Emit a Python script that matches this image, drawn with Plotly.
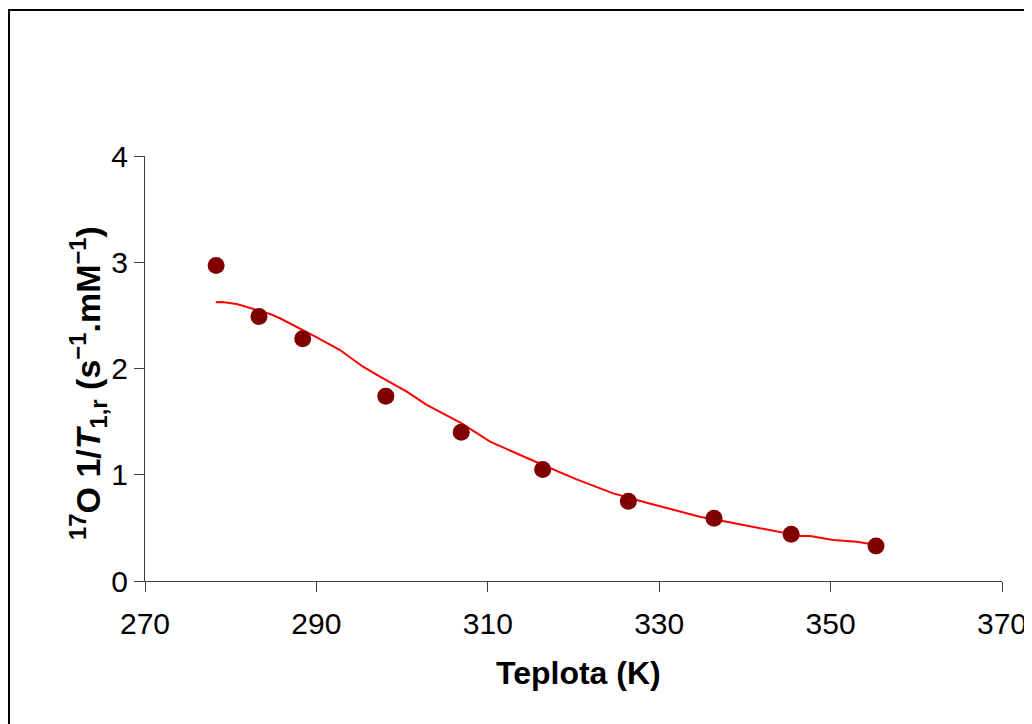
import plotly.graph_objects as go

# Measured data points
temp_pts = [278.3, 283.3, 288.4, 298.1, 306.9, 316.4, 326.4, 336.4, 345.4, 355.3]
rate_pts = [2.97, 2.49, 2.28, 1.74, 1.40, 1.05, 0.75, 0.59, 0.44, 0.33]

# Fitted curve
temp_fit = [278.25, 279.0, 280.7, 282.25, 284.59, 285.75, 288.09, 290.04, 292.75, 295.44,
            297.42, 300.54, 302.87, 305.59, 306.95, 310.26, 312.59, 316.44, 320.37,
            324.64, 328.54, 334.73, 337.88, 346.44, 347.61, 350.28, 353.05, 355.38]
rate_fit = [2.623, 2.625, 2.607, 2.567, 2.513, 2.473, 2.378, 2.294, 2.174, 2.017,
            1.923, 1.782, 1.657, 1.546, 1.484, 1.311, 1.226, 1.092, 0.957,
            0.825, 0.737, 0.605, 0.558, 0.424, 0.424, 0.386, 0.370, 0.339]

x_ticks = [270, 290, 310, 330, 350, 370]
y_ticks = [0, 1, 2, 3, 4]

x_title = "<b>Teplota (K)</b>"
y_title = "<b><sup>17</sup>O 1/<i>T</i><sub>1,r</sub> (s<sup>\u22121</sup>.mM<sup>\u22121</sup>)</b>"

fig = go.Figure()
fig.add_trace(go.Scatter(x=temp_fit, y=rate_fit, mode="lines",
                         line=dict(color="#ff0000", width=2), showlegend=False))
fig.add_trace(go.Scatter(x=temp_pts, y=rate_pts, mode="markers",
                         marker=dict(color="#800000", size=17, line=dict(width=0)),
                         showlegend=False))

tick_font = dict(family="Liberation Sans Narrow, Liberation Sans, Arial", size=30, color="#000000")
title_font = dict(family="Liberation Sans, Arial", size=32, color="#000000")

# page has an 8px body margin; figure placed to line up with the reference
W, H = 1024, 716
fig.update_layout(
    width=W, height=H,
    margin=dict(l=137, r=W - 994, t=148, b=H - 573, autoexpand=False),
    plot_bgcolor="white", paper_bgcolor="white",
    xaxis=dict(range=[270, 370], tickvals=x_ticks, ticks="outside", ticklen=10,
               tickcolor="#404040", showline=True, linecolor="#404040", linewidth=1,
               showgrid=False, zeroline=False, tickfont=tick_font, ticklabelstandoff=6,
               ticklabeloverflow="allow", automargin=False),
    yaxis=dict(range=[0, 4], tickvals=y_ticks, ticks="outside", ticklen=10,
               tickcolor="#404040", showline=True, linecolor="#404040", linewidth=1,
               showgrid=False, zeroline=False, tickfont=tick_font, automargin=False),
    annotations=[
        dict(text=x_title, xref="paper", yref="paper",
             x=(578 - 145) / 857, y=(581 - 673) / 425,
             xanchor="center", yanchor="middle", showarrow=False, font=title_font),
        dict(text=y_title, xref="paper", yref="paper",
             x=(88 - 145) / 857, y=(581 - 383) / 425,
             xanchor="center", yanchor="middle", textangle=-90,
             showarrow=False,
             font=dict(family="Liberation Sans, Arial", size=34, color="#000000"))],
    shapes=[dict(type="rect", xref="paper", yref="paper",
                 x0=(9 - 145) / 857, x1=(1045 - 145) / 857,
                 y0=(581 - 740) / 425, y1=(581 - 10) / 425,
                 line=dict(color="#000000", width=2), fillcolor="rgba(0,0,0,0)", layer="below")],
)

fig.write_html("out.html")
